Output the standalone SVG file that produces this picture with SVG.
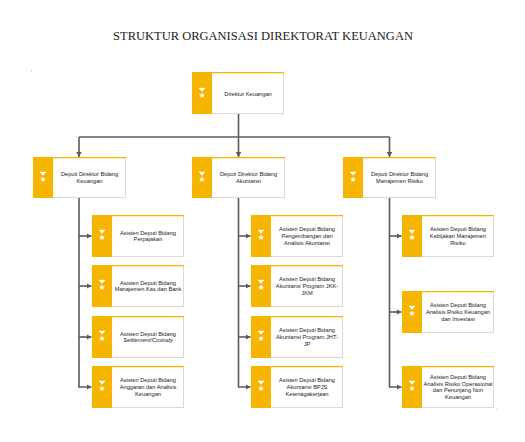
<svg xmlns="http://www.w3.org/2000/svg" xmlns:xlink="http://www.w3.org/1999/xlink" width="525" height="442" viewBox="0 0 525 442">
<style>
.wb{fill:#fff;stroke:#d9d9d9;stroke-width:1}
.or{fill:#f6b500}
.ot{stroke:#f6b500;stroke-width:1.2}
.t{font-family:"Liberation Sans",Arial,sans-serif;font-size:5.7px;fill:#222;text-anchor:middle}
.it{font-style:italic}
.c{fill:none;stroke:#5b5b5b;stroke-width:1.6}
.title{font-family:"Liberation Serif","Times New Roman",serif;font-size:12.5px;fill:#222;text-anchor:middle}
</style>
<defs>
<marker id="ar" markerUnits="userSpaceOnUse" markerWidth="6" markerHeight="6" refX="5" refY="2.75" orient="auto">
<path d="M0,0 L5,2.75 L0,5.5 z" fill="#5b5b5b"/>
</marker>
<g id="ic" fill="#fff">
<rect x="-3" y="-6.2" width="6" height="1.2"/>
<polygon points="-2.2,-5 2.2,-5 0.6,-2.7 -0.6,-2.7"/>
<polygon points="0,-1.7 0.764,0.448 3.043,0.511 1.236,1.902 1.881,4.089 0,2.8 -1.881,4.089 -1.236,1.902 -3.043,0.511 -0.764,0.448"/>
</g>
</defs>
<rect width="525" height="442" fill="#fff"/>
<text class="title" x="263" y="40">STRUKTUR ORGANISASI DIREKTORAT KEUANGAN</text>
<rect x="31" y="70.5" width="1" height="1" fill="#aaa"/>
<rect x="497" y="408.5" width="1" height="1" fill="#aaa"/>

<g id="connectors">
<path class="c" d="M238.5,114 V137"/>
<path class="c" d="M79,137 H389.5"/>
<path class="c" d="M79,137 V157" marker-end="url(#ar)"/>
<path class="c" d="M238.5,137 V157" marker-end="url(#ar)"/>
<path class="c" d="M389.5,137 V157" marker-end="url(#ar)"/>
<path class="c" d="M79,198 V387 H91.5" marker-end="url(#ar)"/>
<path class="c" d="M79,236 H91.5" marker-end="url(#ar)"/>
<path class="c" d="M79,286 H91.5" marker-end="url(#ar)"/>
<path class="c" d="M79,337 H91.5" marker-end="url(#ar)"/>
<path class="c" d="M238.5,198 V387 H250.5" marker-end="url(#ar)"/>
<path class="c" d="M238.5,236 H250.5" marker-end="url(#ar)"/>
<path class="c" d="M238.5,286 H250.5" marker-end="url(#ar)"/>
<path class="c" d="M238.5,337 H250.5" marker-end="url(#ar)"/>
<path class="c" d="M389.5,198 V387 H401.5" marker-end="url(#ar)"/>
<path class="c" d="M389.5,236 H401.5" marker-end="url(#ar)"/>
<path class="c" d="M389.5,312 H401.5" marker-end="url(#ar)"/>
</g>

<g id="direktur" transform="translate(192,72)">
<rect class="wb" x="19.5" y="0.5" width="72" height="41"/>
<rect class="or" x="0" y="0" width="20" height="42"/>
<line class="ot" x1="20" y1="0.6" x2="92" y2="0.6"/>
<use xlink:href="#ic" x="10" y="22"/>
<text class="t" x="56" y="24">Direktur Keuangan</text>
</g>

<g id="dep-keuangan" transform="translate(33,157)">
<rect class="wb" x="19.5" y="0.5" width="73" height="40"/>
<rect class="or" x="0" y="0" width="20" height="41"/>
<line class="ot" x1="20" y1="0.6" x2="93" y2="0.6"/>
<use xlink:href="#ic" x="10" y="21"/>
<text class="t" x="56.5" y="19">Deputi Direktur Bidang</text>
<text class="t" x="56.5" y="26">Keuangan</text>
</g>

<g id="dep-akuntansi" transform="translate(192,157)">
<rect class="wb" x="19.5" y="0.5" width="73" height="40"/>
<rect class="or" x="0" y="0" width="20" height="41"/>
<line class="ot" x1="20" y1="0.6" x2="93" y2="0.6"/>
<use xlink:href="#ic" x="10" y="21"/>
<text class="t" x="56.5" y="19">Deputi Direktur Bidang</text>
<text class="t" x="56.5" y="26">Akuntansi</text>
</g>

<g id="dep-risiko" transform="translate(343,157)">
<rect class="wb" x="19.5" y="0.5" width="73" height="40"/>
<rect class="or" x="0" y="0" width="20" height="41"/>
<line class="ot" x1="20" y1="0.6" x2="93" y2="0.6"/>
<use xlink:href="#ic" x="10" y="21"/>
<text class="t" x="56.5" y="19">Deputi Direktur Bidang</text>
<text class="t" x="56.5" y="26">Manajemen Risiko</text>
</g>

<g id="asdep-perpajakan" transform="translate(92,215)">
<rect class="wb" x="19.5" y="0.5" width="72" height="41"/>
<rect class="or" x="0" y="0" width="20" height="42"/>
<line class="ot" x1="20" y1="0.6" x2="92" y2="0.6"/>
<use xlink:href="#ic" x="10" y="21"/>
<text class="t" x="56" y="19.7">Asisten Deputi Bidang</text>
<text class="t" x="56" y="26.3">Perpajakan</text>
</g>

<g id="asdep-kas" transform="translate(92,265)">
<rect class="wb" x="19.5" y="0.5" width="72" height="41"/>
<rect class="or" x="0" y="0" width="20" height="42"/>
<line class="ot" x1="20" y1="0.6" x2="92" y2="0.6"/>
<use xlink:href="#ic" x="10" y="21"/>
<text class="t" x="56" y="19.7">Asisten Deputi Bidang</text>
<text class="t" x="56" y="26.3">Manajemen Kas dan Bank</text>
</g>

<g id="asdep-settlement" transform="translate(92,316)">
<rect class="wb" x="19.5" y="0.5" width="72" height="41"/>
<rect class="or" x="0" y="0" width="20" height="42"/>
<line class="ot" x1="20" y1="0.6" x2="92" y2="0.6"/>
<use xlink:href="#ic" x="10" y="21"/>
<text class="t" x="56" y="19.7">Asisten Deputi Bidang</text>
<text class="t it" x="56" y="26.3">Settlement/Custody</text>
</g>

<g id="asdep-anggaran" transform="translate(92,366)">
<rect class="wb" x="19.5" y="0.5" width="72" height="41"/>
<rect class="or" x="0" y="0" width="20" height="42"/>
<line class="ot" x1="20" y1="0.6" x2="92" y2="0.6"/>
<use xlink:href="#ic" x="10" y="21"/>
<text class="t" x="56" y="16.3">Asisten Deputi Bidang</text>
<text class="t" x="56" y="23">Anggaran dan Analisis</text>
<text class="t" x="56" y="29.7">Keuangan</text>
</g>

<g id="asdep-pengembangan" transform="translate(251,215)">
<rect class="wb" x="19.5" y="0.5" width="72" height="41"/>
<rect class="or" x="0" y="0" width="20" height="42"/>
<line class="ot" x1="20" y1="0.6" x2="92" y2="0.6"/>
<use xlink:href="#ic" x="10" y="21"/>
<text class="t" x="56" y="16.3">Asisten Deputi Bidang</text>
<text class="t" x="56" y="23">Pengembangan dan</text>
<text class="t" x="56" y="29.7">Analisis Akuntansi</text>
</g>

<g id="asdep-jkk" transform="translate(251,265)">
<rect class="wb" x="19.5" y="0.5" width="72" height="41"/>
<rect class="or" x="0" y="0" width="20" height="42"/>
<line class="ot" x1="20" y1="0.6" x2="92" y2="0.6"/>
<use xlink:href="#ic" x="10" y="21"/>
<text class="t" x="56" y="16.3">Asisten Deputi Bidang</text>
<text class="t" x="56" y="23">Akuntansi Program JKK-</text>
<text class="t" x="56" y="29.7">JKM</text>
</g>

<g id="asdep-jht" transform="translate(251,316)">
<rect class="wb" x="19.5" y="0.5" width="72" height="41"/>
<rect class="or" x="0" y="0" width="20" height="42"/>
<line class="ot" x1="20" y1="0.6" x2="92" y2="0.6"/>
<use xlink:href="#ic" x="10" y="21"/>
<text class="t" x="56" y="16.3">Asisten Deputi Bidang</text>
<text class="t" x="56" y="23">Akuntansi Program JHT-</text>
<text class="t" x="56" y="29.7">JP</text>
</g>

<g id="asdep-bpjs" transform="translate(251,366)">
<rect class="wb" x="19.5" y="0.5" width="72" height="41"/>
<rect class="or" x="0" y="0" width="20" height="42"/>
<line class="ot" x1="20" y1="0.6" x2="92" y2="0.6"/>
<use xlink:href="#ic" x="10" y="21"/>
<text class="t" x="56" y="16.3">Asisten Deputi Bidang</text>
<text class="t" x="56" y="23">Akuntansi BPJS</text>
<text class="t" x="56" y="29.7">Ketenagakerjaan</text>
</g>

<g id="asdep-kebijakan" transform="translate(402,215)">
<rect class="wb" x="19.5" y="0.5" width="72" height="41"/>
<rect class="or" x="0" y="0" width="20" height="42"/>
<line class="ot" x1="20" y1="0.6" x2="92" y2="0.6"/>
<use xlink:href="#ic" x="10" y="21"/>
<text class="t" x="56" y="16.3">Asisten Deputi Bidang</text>
<text class="t" x="56" y="23">Kebijakan Manajemen</text>
<text class="t" x="56" y="29.7">Risiko</text>
</g>

<g id="asdep-investasi" transform="translate(402,291)">
<rect class="wb" x="19.5" y="0.5" width="72" height="41"/>
<rect class="or" x="0" y="0" width="20" height="42"/>
<line class="ot" x1="20" y1="0.6" x2="92" y2="0.6"/>
<use xlink:href="#ic" x="10" y="21"/>
<text class="t" x="56" y="16.3">Asisten Deputi Bidang</text>
<text class="t" x="56" y="23">Analisis Risiko Keuangan</text>
<text class="t" x="56" y="29.7">dan Investasi</text>
</g>

<g id="asdep-operasional" transform="translate(402,366)">
<rect class="wb" x="19.5" y="0.5" width="72" height="41"/>
<rect class="or" x="0" y="0" width="20" height="42"/>
<line class="ot" x1="20" y1="0.6" x2="92" y2="0.6"/>
<use xlink:href="#ic" x="10" y="21"/>
<text class="t" x="56" y="13">Asisten Deputi Bidang</text>
<text class="t" x="56" y="19.7">Analisis Risiko Operasional</text>
<text class="t" x="56" y="26.3">dan Penunjang Non</text>
<text class="t" x="56" y="33">Keuangan</text>
</g>
</svg>
